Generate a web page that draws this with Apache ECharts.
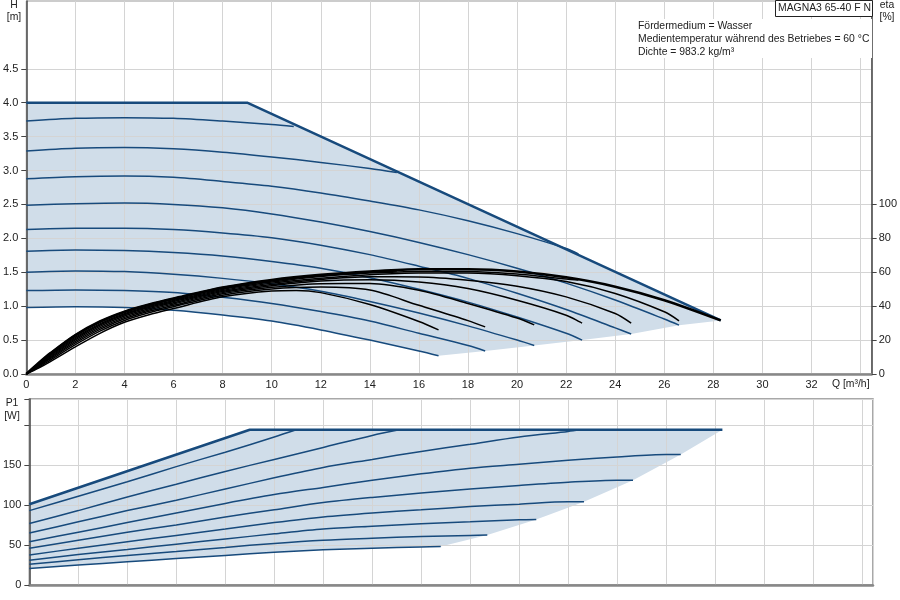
<!DOCTYPE html>
<html>
<head>
<meta charset="utf-8">
<title>MAGNA3 65-40 F N</title>
<script src="https://cdn.jsdelivr.net/npm/echarts@6/dist/echarts.min.js"></script>
<style>
  html, body { margin: 0; padding: 0; background: #fff; }
  #chart { width: 900px; height: 600px; }
</style>
</head>
<body>
<div id="chart"></div>
<script>
// Q [m3/h] -> H [m], max curve and the 9 speed curves (top to bottom)
var headMax = [[0, 4.0], [9, 4.0], [28.3, 0.79]];
var headCurves = [
    [[0, 3.73], [2, 3.77], [4, 3.78], [6, 3.77], [8, 3.73], [10, 3.68], [10.9, 3.65]],
    [[0, 3.29], [2, 3.33], [4, 3.34], [6, 3.32], [8, 3.27], [10, 3.20], [12, 3.12], [14, 3.03], [15.1, 2.97]],
    [[0, 2.88], [2, 2.91], [4, 2.92], [6, 2.90], [8, 2.84], [10, 2.77], [12, 2.67], [14, 2.55], [16, 2.42], [18, 2.26], [20, 2.07], [22, 1.85], [22.5, 1.77]],
    [[0, 2.49], [2, 2.51], [4, 2.52], [6, 2.50], [8, 2.45], [10, 2.36], [12, 2.24], [14, 2.10], [16, 1.94], [18, 1.76], [20, 1.56], [22, 1.34], [24, 1.09], [26, 0.81], [26.6, 0.72]],
    [[0, 2.13], [2, 2.15], [4, 2.15], [6, 2.13], [8, 2.08], [10, 2.01], [12, 1.90], [14, 1.76], [16, 1.59], [18, 1.41], [20, 1.19], [22, 0.95], [24, 0.68], [24.65, 0.59]],
    [[0, 1.81], [2, 1.83], [4, 1.82], [6, 1.79], [8, 1.74], [10, 1.66], [12, 1.56], [14, 1.42], [16, 1.25], [18, 1.06], [20, 0.84], [22, 0.60], [22.65, 0.50]],
    [[0, 1.50], [2, 1.52], [4, 1.51], [6, 1.47], [8, 1.41], [10, 1.33], [12, 1.22], [14, 1.07], [16, 0.90], [18, 0.71], [20, 0.50], [20.7, 0.42]],
    [[0, 1.23], [2, 1.24], [4, 1.23], [6, 1.20], [8, 1.13], [10, 1.04], [12, 0.92], [14, 0.78], [16, 0.60], [18, 0.42], [18.7, 0.34]],
    [[0, 0.98], [2, 0.99], [4, 0.98], [6, 0.94], [8, 0.87], [10, 0.78], [12, 0.65], [14, 0.50], [16, 0.34], [16.8, 0.27]]
];

// Q -> eta [%]
var etaMax = [[0, 0], [0.5, 6.5], [1, 12.5], [2, 23], [3, 31], [4, 36.8], [5, 41], [6, 44.5], [8, 51], [10, 55.5], [12, 58.5], [14, 60.5], [16, 61.8], [18, 61.8], [20, 60.5], [22, 57], [24, 51.5], [26, 43.5], [28.3, 31.6]];
var etaCurves = [
    [[0, 0], [0.5, 6.5], [1, 12.5], [2, 23], [3, 31], [4, 36.8], [5, 41], [6, 44.5], [8, 51], [10, 55.3], [10.9, 56.5]],
    [[0, 0], [0.5, 6.2], [1, 12], [2, 22.3], [3, 30.3], [4, 36.2], [5, 40.4], [6, 43.9], [8, 50.4], [10, 54.8], [12, 58], [14, 60], [15.1, 60.8]],
    [[0, 0], [0.5, 5.9], [1, 11.5], [2, 21.6], [3, 29.6], [4, 35.5], [5, 39.8], [6, 43.3], [8, 49.9], [10, 54.2], [12, 57.5], [14, 59.5], [16, 60.5], [18, 60.5], [20, 59], [22, 56], [22.5, 55.5]],
    [[0, 0], [0.5, 5.6], [1, 11], [2, 20.9], [3, 28.9], [4, 34.9], [5, 39.2], [6, 42.7], [8, 49.3], [10, 53.6], [12, 56.5], [14, 58.5], [16, 59.5], [18, 59.5], [20, 58], [22, 54.5], [24, 47.5], [26, 36.7], [26.6, 31.4]],
    [[0, 0], [0.5, 5.2], [1, 10.4], [2, 20.1], [3, 28.1], [4, 34.2], [5, 38.5], [6, 42], [8, 48.7], [10, 52.8], [12, 55.8], [14, 57.3], [16, 57.2], [18, 55.3], [20, 51.8], [22, 45.5], [24, 35.7], [24.65, 30]],
    [[0, 0], [0.5, 4.9], [1, 9.8], [2, 19.2], [3, 27.2], [4, 33.4], [5, 37.8], [6, 41.3], [8, 48], [10, 52], [12, 54.8], [14, 55.6], [16, 54.3], [18, 50.4], [20, 43.5], [22, 34.7], [22.65, 30]],
    [[0, 0], [0.5, 4.5], [1, 9.2], [2, 18.3], [3, 26.3], [4, 32.6], [5, 37], [6, 40.5], [8, 47.3], [10, 51.1], [12, 53.3], [14, 53.4], [16, 49.4], [18, 41.6], [20, 33], [20.7, 29]],
    [[0, 0], [0.5, 4], [1, 8.4], [2, 17.3], [3, 25.3], [4, 31.6], [5, 36.1], [6, 39.7], [8, 46.5], [10, 50.2], [12, 51.3], [14, 49.5], [16, 40.5], [18, 31.5], [18.7, 27.8]],
    [[0, 0], [0.5, 3.5], [1, 7.5], [2, 16], [3, 24], [4, 30.5], [5, 35], [6, 38.6], [8, 45.5], [10, 49], [11, 49.3], [12, 48], [14, 41], [16, 31], [16.8, 26]]
];

// Q -> P1 [W]
var powerMax = [[0, 101], [9, 194], [28.3, 194]];
var powerCurves = [
    [[0, 93], [2, 111], [4, 129], [6, 148], [8, 166], [10, 185], [10.9, 194]],
    [[0, 77], [2, 93], [4, 110], [6, 126], [8, 142], [10, 157], [12, 172], [14, 187], [15.1, 194]],
    [[0, 65], [2, 79], [4, 93], [6, 106], [8, 120], [10, 134], [12, 147], [14, 157], [16, 167], [18, 176], [20, 185], [22, 192], [22.5, 194]],
    [[0, 54], [2, 66], [4, 78], [6, 90], [8, 102], [10, 113], [12, 122], [14, 131], [16, 139], [18, 146], [20, 151], [22, 156], [24, 160], [26, 163], [26.6, 163]],
    [[0, 46], [2, 56], [4, 66], [6, 75], [8, 85], [10, 94], [12, 103], [14, 109.5], [16, 115], [18, 120], [20, 124.5], [22, 128.5], [24, 131], [24.65, 131]],
    [[0, 37.5], [2, 46], [4, 54], [6, 62], [8, 70], [10, 78], [12, 85], [14, 90], [16, 94], [18, 98], [20, 101], [22, 104], [22.65, 104]],
    [[0, 31], [2, 38], [4, 44.5], [6, 51], [8, 57.5], [10, 64], [12, 70], [14, 73.5], [16, 76.5], [18, 79], [20, 81.5], [20.7, 82]],
    [[0, 26], [2, 31.5], [4, 37], [6, 42], [8, 47], [10, 52], [12, 56], [14, 58.5], [16, 60.5], [18, 62], [18.7, 62.5]],
    [[0, 20.5], [2, 25], [4, 29], [6, 33], [8, 37], [10, 41], [12, 44], [14, 46], [16, 47.5], [16.8, 48]]
];

// labelled ticks
var headTicks = [0, 0.5, 1, 1.5, 2, 2.5, 3, 3.5, 4, 4.5];
var etaTicks = [0, 20, 40, 60, 80, 100];

var infoLines = ['Fördermedium = Wasser', 'Medientemperatur während des Betriebes = 60 °C', 'Dichte = 983.2 kg/m³'];
var pumpName = 'MAGNA3 65-40 F N';

var FONT = '"Liberation Sans", Arial, sans-serif';
var NAVY = '#174a7c';
var FILL = '#d0dde9';

// operating area: max curve, then the end points of curves 4..9, then the lowest curve back to Q=0
function areaOutline(maxCurve, curves) {
    var pts = maxCurve.slice();
    for (var i = 3; i < curves.length; i++) {
        pts.push(curves[i][curves[i].length - 1]);
    }
    var last = curves[curves.length - 1];
    for (var j = last.length - 2; j >= 0; j--) {
        pts.push(last[j]);
    }
    return pts;
}

function areaSeries(xi, yi, pts) {
    return {
        type: 'custom', xAxisIndex: xi, yAxisIndex: yi, z: -1, silent: true,
        data: [[0, 0]],
        renderItem: function (params, api) {
            return {
                type: 'polygon',
                shape: { points: pts.map(function (p) { return api.coord(p); }) },
                style: { fill: FILL }
            };
        }
    };
}

function lineSeries(xi, yi, data, color, width, z, smooth) {
    return {
        type: 'line', xAxisIndex: xi, yAxisIndex: yi, data: data,
        symbol: 'none', smooth: smooth, silent: true, z: z,
        lineStyle: { color: color, width: width }
    };
}

function text(x, y, str, extra) {
    var st = { text: str, x: x, y: y, font: '10.4px ' + FONT, fill: '#222', align: 'left', verticalAlign: 'middle', textAlign: 'left', textVerticalAlign: 'middle' };
    for (var k in extra) st[k] = extra[k];
    return { type: 'text', z: 100, style: st };
}

var series = [];
series.push(areaSeries(0, 0, areaOutline(headMax, headCurves)));
series.push(areaSeries(1, 2, areaOutline(powerMax, powerCurves)));
headCurves.forEach(function (c) { series.push(lineSeries(0, 0, c, NAVY, 1.5, 3, 0.3)); });
series.push(lineSeries(0, 0, headMax, NAVY, 2.5, 4, false));
etaCurves.forEach(function (c) { series.push(lineSeries(0, 1, c, '#000', 1.5, 5, 0.3)); });
series.push(lineSeries(0, 1, etaMax, '#000', 2.5, 6, 0.3));
powerCurves.forEach(function (c) { series.push(lineSeries(1, 2, c, NAVY, 1.5, 3, 0.3)); });
series.push(lineSeries(1, 2, powerMax, NAVY, 2.5, 4, false));

var labelStyle = { fontSize: 11, color: '#222', fontFamily: FONT };
var splitStyle = { show: true, lineStyle: { color: '#d4d4d4', width: 1 } };

var chart = echarts.init(document.getElementById('chart'));
chart.setOption({
    animation: false,
    grid: [
        { left: 26, top: 1, width: 847, height: 373, show: true, borderColor: '#999', borderWidth: 1 },
        { left: 26, top: 399, width: 847, height: 186, show: true, borderColor: '#8c8c8c', borderWidth: 1.5 }
    ],
    xAxis: [
        {
            gridIndex: 0, type: 'value', min: 0, max: 34.45, interval: 2,
            axisLine: { show: true, onZero: false, lineStyle: { color: '#888', width: 2.5 } },
            axisTick: { show: false },
            axisLabel: Object.assign({ margin: 5, formatter: function (v) { return v > 32.5 ? '' : String(v); } }, labelStyle),
            splitLine: splitStyle
        },
        {
            gridIndex: 1, type: 'value', min: 0, max: 34.45, interval: 2,
            axisLine: { show: true, onZero: false, lineStyle: { color: '#888', width: 2.5 } },
            axisTick: { show: false }, axisLabel: { show: false },
            splitLine: splitStyle
        }
    ],
    yAxis: [
        {
            gridIndex: 0, type: 'value', min: 0, max: 5.5, interval: 0.5,
            axisLine: { show: true, onZero: false, lineStyle: { color: '#444', width: 1.5 } },
            axisTick: { show: true, length: 5, customValues: headTicks, lineStyle: { color: '#444' } },
            axisLabel: Object.assign({ margin: 8, customValues: headTicks, formatter: function (v) { return v.toFixed(1); } }, labelStyle),
            splitLine: splitStyle
        },
        {
            gridIndex: 0, type: 'value', position: 'right', min: 0, max: 220, interval: 20,
            axisLine: { show: true, onZero: false, lineStyle: { color: '#444', width: 1.5 } },
            axisTick: { show: true, length: 5, customValues: etaTicks, lineStyle: { color: '#444' } },
            axisLabel: Object.assign({ margin: 7, customValues: etaTicks }, labelStyle),
            splitLine: { show: false }
        },
        {
            gridIndex: 1, type: 'value', min: 0, max: 232.5, interval: 50,
            axisLine: { show: true, onZero: false, lineStyle: { color: '#444', width: 1.5 } },
            axisTick: { show: true, length: 5, lineStyle: { color: '#444' } },
            axisLabel: Object.assign({ margin: 8, formatter: function (v) { return v > 160 ? '' : String(v); } }, labelStyle),
            splitLine: splitStyle
        }
    ],
    graphic: [
        // white boxes behind the notes
        { type: 'rect', z: 90, shape: { x: 635, y: 19, width: 237, height: 39 }, style: { fill: '#fff' } },
        { type: 'rect', z: 90, shape: { x: 775.5, y: 0.5, width: 97, height: 16 }, style: { fill: '#fff', stroke: '#222', lineWidth: 1 } },
        text(778, 8.5, pumpName),
        text(638, 26.5, infoLines[0]),
        text(638, 39.5, infoLines[1]),
        text(638, 52.5, infoLines[2]),
        text(14, 5, 'H', { align: 'center', textAlign: 'center' }),
        text(14, 17.5, '[m]', { align: 'center', textAlign: 'center' }),
        text(887, 5, 'eta', { align: 'center', textAlign: 'center' }),
        text(887, 17.5, '[%]', { align: 'center', textAlign: 'center' }),
        text(12, 403, 'P1', { align: 'center', textAlign: 'center' }),
        text(12, 416, '[W]', { align: 'center', textAlign: 'center' }),
        text(832, 384.5, 'Q [m³/h]')
    ],
    series: series
});
</script>
</body>
</html>
